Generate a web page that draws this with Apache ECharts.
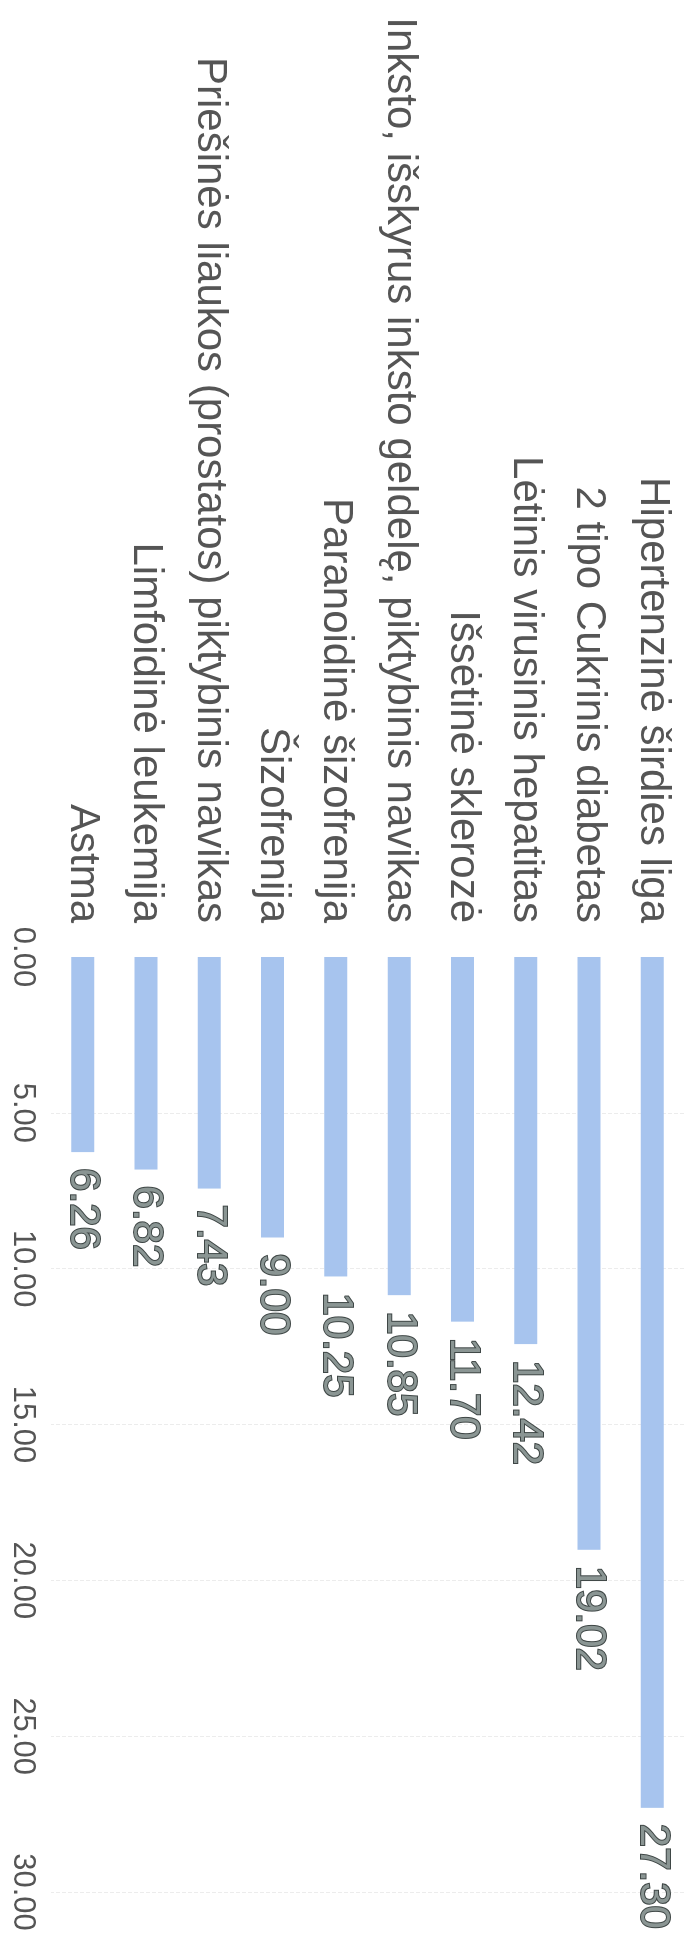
<!DOCTYPE html>
<html lang="lt">
<head>
    <meta charset="UTF-8">
    <title>Ligos</title>
    <script src="https://cdn.jsdelivr.net/npm/echarts@6/dist/echarts.min.js"></script>
    <style>
        html, body { margin: 0; padding: 0; overflow: hidden; background: #fff; }
        /* chart is drawn landscape, then turned 90deg clockwise like the scan */
        #main {
            position: absolute; left: 0; top: 0;
            width: 1940px; height: 688px;
            transform-origin: 0 0;
            transform: translateX(688px) rotate(90deg);
        }
    </style>
</head>
<body>
<div id="main"></div>
<script>
    var ligos = [
        'Hipertenzinė širdies liga',
        '2 tipo Cukrinis diabetas',
        'Lėtinis virusinis hepatitas',
        'Išsėtinė sklerozė',
        'Inksto, išskyrus inksto geldelę, piktybinis navikas',
        'Paranoidinė šizofrenija',
        'Šizofrenija',
        'Priešinės liaukos (prostatos) piktybinis navikas',
        'Limfoidinė leukemija',
        'Astma'
    ];
    var reiksmes = [27.30, 19.02, 12.42, 11.70, 10.85, 10.25, 9.00, 7.43, 6.82, 6.26];

    var font = 'Liberation Sans, Arial, sans-serif';
    var myChart = echarts.init(document.getElementById('main'));
    var option = {
        animation: false,
        grid: { left: 957, right: 48, top: 4, bottom: 51, containLabel: false },
        xAxis: {
            type: 'value',
            min: 0,
            max: 30,
            interval: 5,
            axisLine: { show: false },
            axisTick: { show: false },
            axisLabel: {
                margin: 13,
                fontSize: 31,
                color: '#555',
                fontFamily: font,
                formatter: function (v) { return v.toFixed(2); }
            },
            splitLine: {
                showMinLine: false,
                lineStyle: { color: '#ececec', type: 'dashed', width: 1 }
            }
        },
        yAxis: {
            type: 'category',
            inverse: true,
            data: ligos,
            axisLine: { show: false },
            axisTick: { show: false },
            axisLabel: {
                margin: 34,
                fontSize: 42,
                color: '#555',
                fontFamily: font
            }
        },
        series: [{
            type: 'bar',
            data: reiksmes,
            barWidth: 23,
            itemStyle: { color: '#a7c4ee' },
            label: {
                show: true,
                position: 'right',
                distance: 16,
                fontSize: 42,
                fontFamily: font,
                color: '#8a9593',
                textBorderColor: '#3f4746',
                textBorderWidth: 2,
                formatter: function (p) { return p.value.toFixed(2); }
            }
        }]
    };
    myChart.setOption(option);
</script>
</body>
</html>
